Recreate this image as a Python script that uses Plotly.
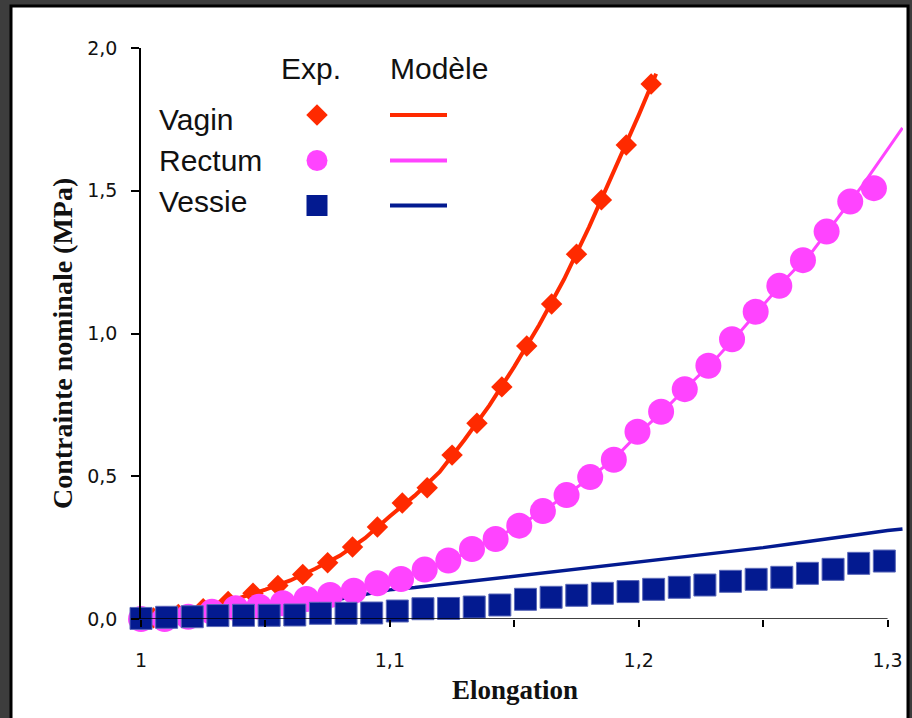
import plotly.graph_objects as go

# ---------------- data ----------------
# Experimental points
vagin_x = [1.005, 1.015, 1.025, 1.035, 1.045, 1.055, 1.065, 1.075, 1.085, 1.095,
           1.105, 1.115, 1.125, 1.135, 1.145, 1.155, 1.165, 1.175, 1.185, 1.195, 1.205]
vagin_y = [0.004, 0.016, 0.036, 0.061, 0.090, 0.117, 0.156, 0.197, 0.252, 0.322,
           0.406, 0.460, 0.574, 0.686, 0.813, 0.956, 1.103, 1.278, 1.468, 1.660, 1.874]

rectum_x = [1.0, 1.0095, 1.019, 1.0285, 1.038, 1.0475, 1.057, 1.0665, 1.076, 1.0855,
            1.095, 1.1045, 1.114, 1.1235, 1.133, 1.1425, 1.152, 1.1615, 1.171, 1.1805,
            1.19, 1.1995, 1.209, 1.2185, 1.228, 1.2375, 1.247, 1.2565, 1.266, 1.2755,
            1.285, 1.2945]
rectum_y = [0.0, 0.0, 0.008, 0.025, 0.038, 0.043, 0.055, 0.070, 0.084, 0.099,
            0.125, 0.140, 0.173, 0.205, 0.245, 0.280, 0.327, 0.378, 0.434, 0.497,
            0.558, 0.656, 0.726, 0.805, 0.887, 0.980, 1.076, 1.167, 1.257, 1.357,
            1.462, 1.509]

vessie_x = [1.0, 1.0103, 1.0206, 1.0309, 1.0412, 1.0515, 1.0618, 1.0721, 1.0824, 1.0927,
            1.103, 1.1133, 1.1236, 1.1339, 1.1442, 1.1545, 1.1648, 1.1751, 1.1854, 1.1957,
            1.206, 1.2163, 1.2266, 1.2369, 1.2472, 1.2575, 1.2678, 1.2781, 1.2884, 1.2987]
vessie_y = [0.002, 0.006, 0.008, 0.012, 0.013, 0.013, 0.014, 0.020, 0.020, 0.021,
            0.028, 0.036, 0.037, 0.042, 0.049, 0.069, 0.076, 0.083, 0.090, 0.096,
            0.104, 0.111, 0.119, 0.132, 0.139, 0.146, 0.160, 0.174, 0.195, 0.203]

# Model curves
vagin_model_x = [1.0, 1.01, 1.02, 1.03, 1.04, 1.05, 1.06, 1.07, 1.08, 1.09, 1.10,
                 1.11, 1.12, 1.13, 1.14, 1.15, 1.16, 1.17, 1.18, 1.19, 1.20, 1.207]
vagin_model_y = [0.0, 0.008, 0.024, 0.046, 0.075, 0.103, 0.135, 0.176, 0.222, 0.283, 0.360,
                 0.432, 0.515, 0.628, 0.748, 0.884, 1.030, 1.190, 1.372, 1.565, 1.765, 1.910]

rectum_model_x = [1.0, 1.01, 1.02, 1.03, 1.04, 1.05, 1.06, 1.07, 1.08, 1.09, 1.10,
                  1.11, 1.12, 1.13, 1.14, 1.15, 1.16, 1.17, 1.18, 1.19, 1.20,
                  1.21, 1.22, 1.23, 1.24, 1.25, 1.26, 1.27, 1.28, 1.29, 1.30, 1.306]
rectum_model_y = [0.0, 0.004, 0.012, 0.024, 0.036, 0.046, 0.060, 0.075, 0.090, 0.110, 0.130,
                  0.158, 0.190, 0.228, 0.272, 0.318, 0.370, 0.428, 0.492, 0.560, 0.650,
                  0.730, 0.818, 0.902, 0.998, 1.100, 1.200, 1.290, 1.405, 1.520, 1.645, 1.720]

vessie_model_x = [1.0, 1.02, 1.04, 1.06, 1.08, 1.09, 1.10, 1.11, 1.12, 1.13, 1.14, 1.15,
                  1.16, 1.17, 1.18, 1.19, 1.20, 1.21, 1.22, 1.23, 1.24, 1.25, 1.26,
                  1.27, 1.28, 1.29, 1.30, 1.306]
vessie_model_y = [0.0, 0.008, 0.022, 0.042, 0.070, 0.085, 0.102, 0.110, 0.120, 0.130, 0.138, 0.148,
                  0.160, 0.170, 0.180, 0.190, 0.200, 0.208, 0.218, 0.228, 0.240, 0.250, 0.262,
                  0.275, 0.285, 0.298, 0.310, 0.315]

x_tickvals = [1.0, 1.05, 1.1, 1.15, 1.2, 1.25, 1.3]
x_ticktext = ["1", "", "1,1", "", "1,2", "", "1,3"]
y_tickvals = [0.0, 0.5, 1.0, 1.5, 2.0]
y_ticktext = ["0,0", "0,5", "1,0", "1,5", "2,0"]

series_names = ["Vagin", "Rectum", "Vessie"]
legend_headers = ["Exp.", "Modèle"]

# ---------------- style ----------------
RED = "#ff2a00"
PINK = "#ff44ff"
BLUE = "#031a90"
colors = [RED, PINK, BLUE]
symbols = ["diamond", "circle", "square"]
leg_sizes = [16.5, 21, 21]

W, H = 912, 718
L, R, T, B = 141, 9, 48, 99
pw, ph = W - L - R, H - T - B


def px_x(p):
    return (p - L) / pw


def px_y(p):
    return (H - B - p) / ph


fig = go.Figure()

# red model + points
fig.add_trace(go.Scatter(x=vagin_model_x, y=vagin_model_y, mode="lines",
                         line=dict(color=RED, width=4), hoverinfo="skip"))
fig.add_trace(go.Scatter(x=vagin_x, y=vagin_y, mode="markers", cliponaxis=False,
                         marker=dict(symbol="diamond", size=16.5, color=RED, line=dict(width=0))))
# blue model line (below pink circles)
fig.add_trace(go.Scatter(x=vessie_model_x, y=vessie_model_y, mode="lines",
                         line=dict(color=BLUE, width=3.5), hoverinfo="skip"))
# pink model + points
fig.add_trace(go.Scatter(x=rectum_model_x, y=rectum_model_y, mode="lines",
                         line=dict(color=PINK, width=3), hoverinfo="skip"))
fig.add_trace(go.Scatter(x=rectum_x, y=rectum_y, mode="markers", cliponaxis=False,
                         marker=dict(symbol="circle", size=26, color=PINK, line=dict(width=0))))
# blue squares
fig.add_trace(go.Scatter(x=vessie_x, y=vessie_y, mode="markers", cliponaxis=False,
                         marker=dict(symbol="square", size=22, color=BLUE,
                                     line=dict(width=1, color="#5a68b8"))))

# ---------------- custom legend (overlay axes in pixel units) ----------------
leg_rows_y = [115, 160.5, 205.5]
leg_marker_x = 317
leg_line_x = [390, 447]
for i, name in enumerate(series_names):
    fig.add_trace(go.Scatter(x=[leg_marker_x], y=[leg_rows_y[i]], xaxis="x2", yaxis="y2",
                             mode="markers", cliponaxis=False,
                             marker=dict(symbol=symbols[i], size=leg_sizes[i], color=colors[i])))
    fig.add_trace(go.Scatter(x=leg_line_x, y=[leg_rows_y[i]] * 2, xaxis="x2", yaxis="y2",
                             mode="lines", cliponaxis=False,
                             line=dict(color=colors[i], width=4)))

annotations = []
leg_text_y = [119, 160, 201]
for i, name in enumerate(series_names):
    annotations.append(dict(xref="x2", yref="y2", x=157, y=leg_text_y[i], text=name,
                            showarrow=False, xanchor="left", yanchor="middle",
                            font=dict(family="Liberation Sans", size=30, color="#111")))
for txt, cx in zip(legend_headers, [311, 439]):
    annotations.append(dict(xref="x2", yref="y2", x=cx, y=68, text=txt,
                            showarrow=False, xanchor="center", yanchor="middle",
                            font=dict(family="Liberation Sans", size=30, color="#111")))

# axis titles
annotations.append(dict(xref="paper", yref="paper", x=px_x(515), y=px_y(690),
                        text="<b>Elongation</b>", showarrow=False,
                        xanchor="center", yanchor="middle",
                        font=dict(family="Liberation Serif", size=27, color="#111")))
annotations.append(dict(xref="paper", yref="paper", x=px_x(62), y=px_y(344),
                        text="<b>Contrainte nominale (MPa)</b>", showarrow=False,
                        textangle=-90, xanchor="center", yanchor="middle",
                        font=dict(family="Liberation Serif", size=28, color="#111")))

shapes = [
    # white card on the dark textured background
    dict(type="rect", xref="paper", yref="paper", layer="below",
         x0=px_x(11), x1=px_x(908), y0=px_y(740), y1=px_y(6),
         fillcolor="white", line=dict(color="black", width=3)),
    # x axis line from 1 to 1.3
    dict(type="line", xref="x", yref="y", x0=1.0, x1=1.3, y0=0, y1=0,
         line=dict(color="black", width=1.5)),
]

fig.update_layout(
    width=W, height=H,
    margin=dict(l=L, r=R, t=T, b=B),
    paper_bgcolor="#3d3d3d",
    plot_bgcolor="white",
    showlegend=False,
    annotations=annotations,
    shapes=shapes,
    xaxis=dict(range=[1.0, 1.3062], tickvals=x_tickvals, ticktext=x_ticktext,
               ticks="outside", ticklen=7, tickwidth=1.5, tickcolor="black",
               showline=False, showgrid=False, zeroline=False,
               ticklabelstandoff=17,
               tickfont=dict(family="DejaVu Sans", size=19, color="#111")),
    yaxis=dict(range=[0, 2.0], tickvals=y_tickvals, ticktext=y_ticktext,
               ticks="outside", ticklen=8, tickwidth=1.5, tickcolor="black",
               showline=True, linecolor="black", linewidth=1.5,
               showgrid=False, zeroline=False, ticklabelstandoff=10,
               tickfont=dict(family="DejaVu Sans", size=19, color="#111")),
    xaxis2=dict(overlaying="x", range=[L, W - R], visible=False, domain=[0, 1]),
    yaxis2=dict(overlaying="y", range=[H - B, T], visible=False, domain=[0, 1]),
)

fig.write_html(
    "out.html",
    config={"displayModeBar": False},
    post_script="document.body.style.margin='0';document.body.style.background='#3d3d3d';"
                "document.body.style.overflow='hidden';",
)
